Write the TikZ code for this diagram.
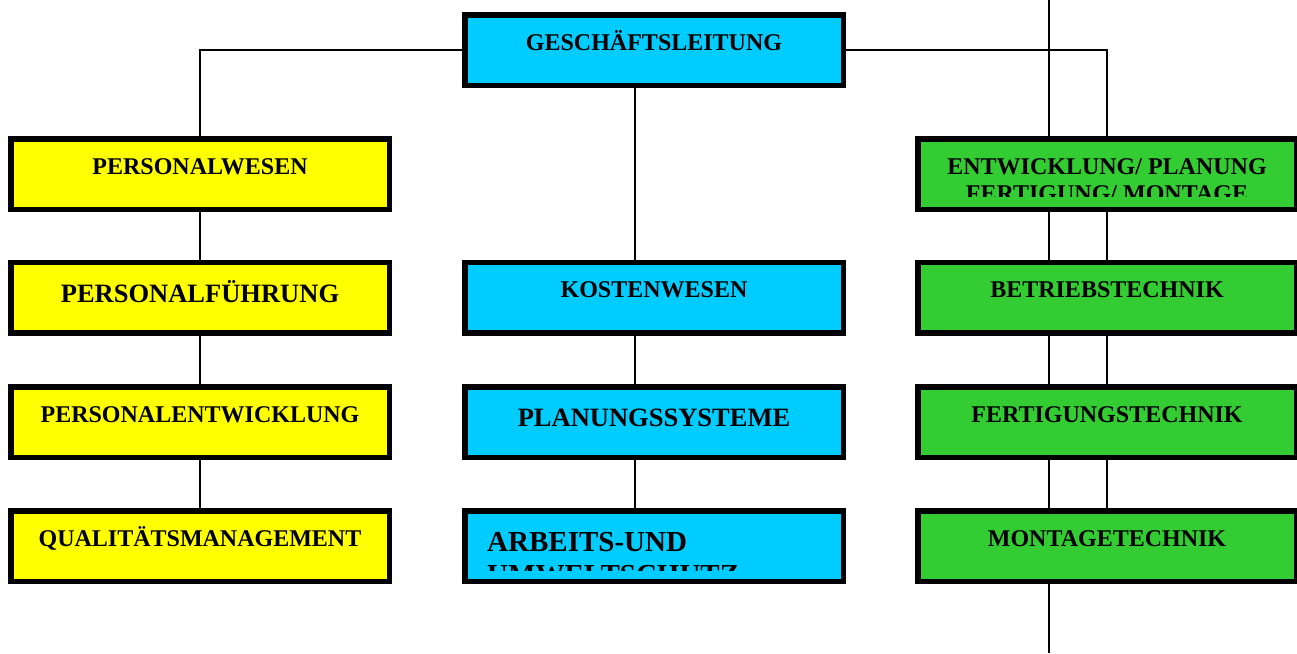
\documentclass[tikz,border=0pt]{standalone}
\usepackage{fontspec}
\setmainfont{Liberation Serif}
\usetikzlibrary{positioning}
\definecolor{pers}{HTML}{FFFF00}
\definecolor{kost}{HTML}{00CCFF}
\definecolor{tech}{HTML}{33CC33}

\begin{document}
\begin{tikzpicture}[x=1pt,y=-1pt,
  box/.style={draw=black,line width=5.5pt,fill=#1,minimum width=378.5pt,minimum height=70.5pt,inner sep=0pt},
  conn/.style={draw=black,line width=1.6pt},
  lbl/.style={anchor=base,inner sep=0pt,font=\fontsize{24}{27}\selectfont\bfseries},
  biglbl/.style={anchor=base,inner sep=0pt,font=\fontsize{26.5}{30}\selectfont\bfseries}]
  \useasboundingbox (0,0) rectangle (1297,653);

  % durchgehende Linie rechts
  \coordinate (top) at (1049,0);
  \coordinate (bot) at (1049,653);
  \draw[conn] (top) -- (bot);
  \coordinate (mx) at (635,0);

  \node[box=kost] (gl) at (654,50) {};

  % links
  \node[box=pers] (pw) at (200,174) {};
  \node[box=pers] (pf) at (200,297.5) {};
  \node[box=pers] (pe) at (200,422) {};
  \node[box=pers] (qm) at (200,546) {};

  % Mitte
  \node[box=kost] (kw) at (654,297.5) {};
  \node[box=kost] (ps) at (654,422) {};
  \node[box=kost] (au) at (654,546) {};

  % rechts
  \node[box=tech] (ew) at (1107,174) {};
  \node[box=tech] (bt) at (1107,297.5) {};
  \node[box=tech] (ft) at (1107,422) {};
  \node[box=tech] (mt) at (1107,546) {};

  \draw[conn] (gl.west) -| (pw.north);
  \draw[conn] (gl.east) -| (ew.north);
  \draw[conn] (gl.south -| mx) -- (kw.north -| mx);
  \draw[conn] (pw.south) -- (pf.north);
  \draw[conn] (pf.south) -- (pe.north);
  \draw[conn] (pe.south) -- (qm.north);
  \draw[conn] (kw.south -| mx) -- (ps.north -| mx);
  \draw[conn] (ps.south -| mx) -- (au.north -| mx);
  \draw[conn] (ew.south) -- (bt.north);
  \draw[conn] (bt.south) -- (ft.north);
  \draw[conn] (ft.south) -- (mt.north);

  \node[lbl] (glt) at (gl.center) {GESCHÄFTSLEITUNG};
  \node[lbl] (pwt) at (pw.center) {PERSONALWESEN};
  \node[biglbl] (pft) at ([yshift=-4.5pt]pf.center) {PERSONALFÜHRUNG};
  \node[lbl] (pet) at (pe.center) {PERSONALENTWICKLUNG};
  \node[lbl] (qmt) at (qm.center) {QUALITÄTSMANAGEMENT};
  \node[lbl] (kwt) at (kw.center) {KOSTENWESEN};
  \node[biglbl] (pst) at ([yshift=-4pt]ps.center) {PLANUNGSSYSTEME};
  \node[lbl] (btt) at (bt.center) {BETRIEBSTECHNIK};
  \node[lbl] (ftt) at (ft.center) {FERTIGUNGSTECHNIK};
  \node[lbl] (mtt) at (mt.center) {MONTAGETECHNIK};

  \begin{scope}
    \clip (921,142) rectangle (1293,196);
    \node[lbl] (ewt) at (1107,174) {ENTWICKLUNG/ PLANUNG};
    \node[lbl] (ewu) at (1107,201) {FERTIGUNG/ MONTAGE};
  \end{scope}
  \begin{scope}
    \clip (468,514) rectangle (840,570);
    \node[biglbl,anchor=base west,font=\fontsize{29}{33}\selectfont\bfseries] (aut) at (487,551) {ARBEITS-UND};
    \node[biglbl,anchor=base west,font=\fontsize{29}{33}\selectfont\bfseries] (auu) at (487,584) {UMWELTSCHUTZ};
  \end{scope}
\end{tikzpicture}
\end{document}
